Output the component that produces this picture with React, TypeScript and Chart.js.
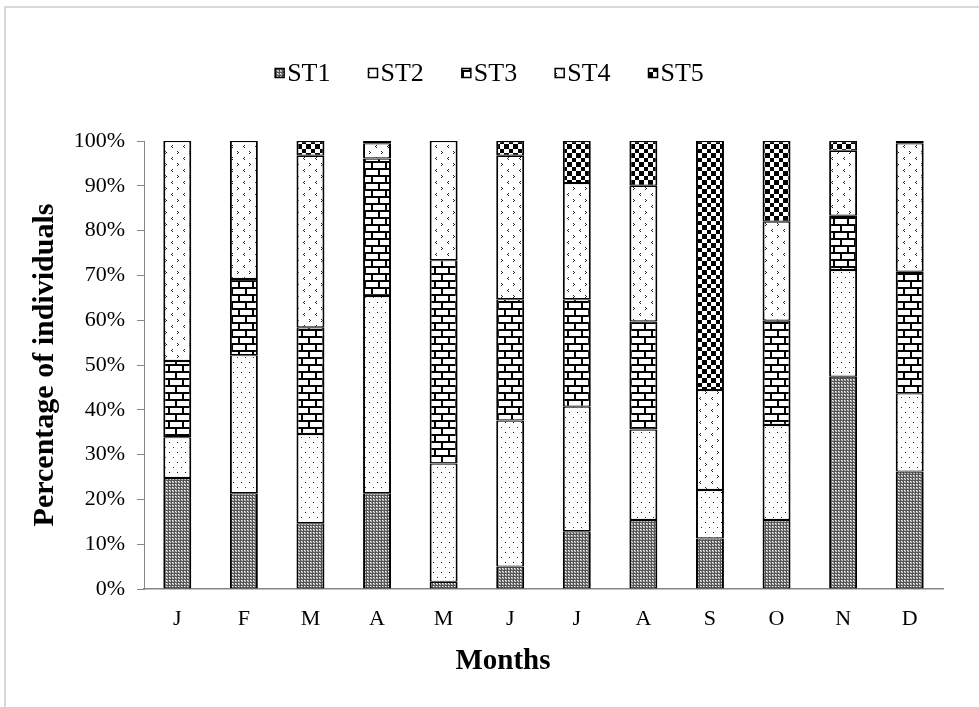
import React, { useEffect, useRef } from "react";
import { Chart, registerables } from "chart.js";

Chart.register(...registerables);

const months = ["J", "F", "M", "A", "M", "J", "J", "A", "S", "O", "N", "D"];
const seriesNames = ["ST1", "ST2", "ST3", "ST4", "ST5"];
const st1 = [24.8, 21.4, 14.7, 21.4, 1.6, 5.0, 12.9, 15.4, 11.3, 15.4, 47.4, 26.2];
const st2 = [9.1, 30.8, 19.9, 44.0, 26.4, 32.6, 27.8, 20.2, 10.8, 21.2, 23.8, 17.5];
const st3 = [17.0, 17.0, 23.8, 30.7, 45.4, 27.1, 24.0, 24.1, 0.0, 23.3, 12.1, 27.1];
const st4 = [49.1, 30.8, 38.3, 3.4, 26.6, 32.0, 25.9, 30.3, 22.3, 22.1, 14.5, 28.7];
const st5 = [0.0, 0.0, 3.3, 0.5, 0.0, 3.3, 9.4, 10.0, 55.6, 18.0, 2.2, 0.5];
const yTickValues = [0, 10, 20, 30, 40, 50, 60, 70, 80, 90, 100];
const xTitle = "Months";
const yTitle = "Percentage of individuals";

const FAMILY = "'Liberation Serif', 'Times New Roman', serif";

function makePattern(w: number, h: number, draw: (g: CanvasRenderingContext2D) => void) {
  const c = document.createElement("canvas");
  c.width = w;
  c.height = h;
  const g = c.getContext("2d") as CanvasRenderingContext2D;
  draw(g);
  return g.createPattern(c, "repeat") as CanvasPattern;
}

function buildPatterns() {
  const p1 = makePattern(3, 3, (g) => {
    g.fillStyle = "#9a9a9a";
    g.fillRect(0, 0, 3, 3);
    g.fillStyle = "#555";
    g.fillRect(0, 0, 3, 1);
    g.fillRect(0, 0, 1, 3);
    g.fillStyle = "#fff";
    g.fillRect(1, 1, 1, 1);
    g.fillStyle = "#ccc";
    g.fillRect(2, 2, 1, 1);
  });
  const p2 = makePattern(8, 10, (g) => {
    g.fillStyle = "#fff";
    g.fillRect(0, 0, 8, 10);
    g.fillStyle = "#000";
    g.fillRect(1, 2, 1, 1);
    g.fillStyle = "#333";
    g.fillRect(5, 7, 1, 1);
  });
  const p3 = makePattern(14, 14, (g) => {
    g.fillStyle = "#fff";
    g.fillRect(0, 0, 14, 14);
    g.fillStyle = "#000";
    g.fillRect(0, 0, 14, 2);
    g.fillRect(0, 7, 14, 2);
    g.fillRect(0, 2, 2, 5);
    g.fillRect(7, 9, 2, 5);
  });
  const p4 = makePattern(12, 12, (g) => {
    g.fillStyle = "#fff";
    g.fillRect(0, 0, 12, 12);
    g.fillStyle = "#222";
    // "<"
    g.fillRect(4, 1, 1, 1);
    g.fillRect(3, 2, 1, 1);
    g.fillRect(4, 3, 1, 1);
    // ">"
    g.fillRect(9, 7, 1, 1);
    g.fillRect(10, 8, 1, 1);
    g.fillRect(9, 9, 1, 1);
  });
  const p5 = makePattern(9, 9, (g) => {
    g.fillStyle = "#fff";
    g.fillRect(0, 0, 9, 9);
    g.fillStyle = "#000";
    g.fillRect(0, 0, 5, 5);
    g.fillRect(5, 5, 4, 4);
  });
  return [p1, p2, p3, p4, p5];
}

const legendPlugin = {
  id: "patternLegend",
  afterDraw(chart: any) {
    const ctx: CanvasRenderingContext2D = chart.ctx;
    const ds = chart.data.datasets;
    ctx.save();
    ctx.font = `26px ${FAMILY}`;
    ctx.textBaseline = "middle";
    ctx.textAlign = "left";
    const box = 9;
    const gapText = 3;
    const gapItem = 38;
    const widths = ds.map((d: any) => ctx.measureText(d.label).width);
    const total =
      widths.reduce((a: number, w: number) => a + box + gapText + w, 0) + gapItem * (ds.length - 1);
    let x = chart.width / 2 - total / 2;
    const y = 73;
    ds.forEach((d: any, i: number) => {
      ctx.fillStyle = d.backgroundColor;
      ctx.fillRect(x, y - box / 2, box, box);
      ctx.strokeStyle = "#000";
      ctx.lineWidth = 1.5;
      ctx.strokeRect(x, y - box / 2, box, box);
      ctx.fillStyle = "#000";
      ctx.fillText(d.label, x + box + gapText, y + 1);
      x += box + gapText + widths[i] + gapItem;
    });
    // x-axis title
    ctx.font = `bold 29px ${FAMILY}`;
    ctx.textAlign = "center";
    ctx.textBaseline = "middle";
    ctx.fillText(xTitle, 503, 662);
    ctx.restore();
  },
};

export default function App() {
  const ref = useRef<HTMLCanvasElement | null>(null);

  useEffect(() => {
    document.body.style.margin = "0";
    const canvas = ref.current;
    if (!canvas) return;
    const patterns = buildPatterns();
    const series = [st1, st2, st3, st4, st5];
    const chart = new Chart(canvas, {
      type: "bar",
      data: {
        labels: months,
        datasets: series.map((d, i) => ({
          label: seriesNames[i],
          data: d,
          backgroundColor: patterns[i] as any,
          borderColor: "#000",
          borderWidth: { left: 2, right: 2, top: 1.2, bottom: 1.2 } as any,
          borderSkipped: false as any,
          barPercentage: 0.42,
          categoryPercentage: 1,
        })),
      },
      options: {
        responsive: false,
        animation: false,
        devicePixelRatio: 1,
        layout: { padding: { top: 141, right: 36, left: 0, bottom: 0 } },
        plugins: {
          legend: { display: false },
          tooltip: { enabled: false },
        },
        scales: {
          x: {
            stacked: true,
            grid: { display: false, drawTicks: false },
            border: { display: true, color: "#868686", width: 1.5 },
            ticks: {
              color: "#000",
              font: { family: FAMILY, size: 22 },
              padding: 17,
              maxRotation: 0,
              autoSkip: false,
            },
            title: { display: false },
            afterFit: (s: any) => {
              s.height = 118;
            },
          },
          y: {
            stacked: true,
            min: 0,
            max: 100,
            afterBuildTicks: (s: any) => {
              s.ticks = yTickValues.map((v) => ({ value: v }));
            },
            ticks: {
              color: "#000",
              font: { family: FAMILY, size: 22 },
              padding: 12,
              callback: (v: any) => `${v}%`,
            },
            grid: {
              drawOnChartArea: false,
              drawTicks: true,
              tickLength: 7,
              color: "#868686",
              lineWidth: 1,
            },
            border: { display: true, color: "#868686", width: 1 },
            title: {
              display: true,
              text: yTitle,
              color: "#000",
              font: { family: FAMILY, size: 30, weight: "bold" },
              padding: { top: 27, bottom: 0 },
            },
            afterFit: (s: any) => {
              s.width = 144;
            },
          },
        },
      },
      plugins: [legendPlugin],
    });
    return () => chart.destroy();
  }, []);

  return (
    <div style={{ position: "relative", width: 979, height: 707, overflow: "hidden", background: "#fff" }}>
      <div
        style={{
          position: "absolute",
          left: 4,
          top: 6,
          width: 1200,
          height: 1000,
          border: "2px solid #d9d9d9",
          boxSizing: "border-box",
        }}
      />
      <canvas
        ref={ref}
        width={979}
        height={707}
        style={{ position: "absolute", left: 0, top: 0, display: "block" }}
      />
    </div>
  );
}
